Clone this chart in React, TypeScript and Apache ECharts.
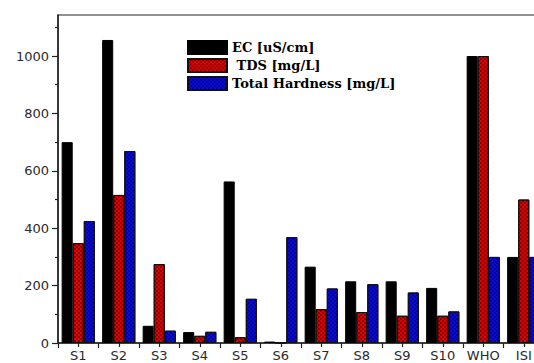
import React, { useEffect, useRef } from "react";
import * as echarts from "echarts";

const categories = ["S1", "S2", "S3", "S4", "S5", "S6", "S7", "S8", "S9", "S10", "WHO", "ISI"];
const ecValues = [700, 1056, 60, 38, 563, 5, 266, 215, 215, 192, 1000, 300];
const tdsValues = [348, 516, 275, 25, 20, 1, 118, 108, 95, 95, 1000, 500];
const hardnessValues = [425, 669, 43, 39, 154, 369, 190, 205, 176, 110, 300, 300];
const yTickLabels = [0, 200, 400, 600, 800, 1000];
const yMinorTicks = [100, 300, 500, 700, 900, 1100];

const checker = (color: string) => ({
  symbol: "rect",
  symbolSize: 1,
  color,
  dashArrayX: [
    [2, 2],
    [0, 2, 2, 0],
  ],
  dashArrayY: [2, 0],
  rotation: 0,
});

export default function App() {
  const ref = useRef<HTMLDivElement>(null);
  useEffect(() => {
    if (!ref.current) return;
    const chart = echarts.init(ref.current, undefined, { renderer: "svg" });
    const axisFont = { fontFamily: "DejaVu Sans, sans-serif", fontSize: 13, color: "#2a2a2a" };
    const gridRight = -10;
    const plotW = 534 - 58 - gridRight;
    const plotH = 363 - 15 - 20;
    chart.setOption({
      animation: false,
      grid: {
        left: 58,
        top: 15,
        right: gridRight,
        bottom: 20,
        show: true,
        borderColor: "#222",
        borderWidth: 1.2,
        containLabel: false,
        outerBoundsMode: "none",
      },
      legend: {
        orient: "vertical",
        left: 187,
        top: 40,
        padding: 0,
        itemWidth: 39,
        itemHeight: 13,
        itemGap: 3,
        icon: "rect",
        textStyle: {
          fontFamily: "DejaVu Serif, serif",
          fontWeight: "bold",
          fontSize: 13,
          color: "#000",
          lineHeight: 13,
        },
        data: ["EC [uS/cm]", " TDS [mg/L]", "Total Hardness [mg/L]"],
      },
      xAxis: [
        {
          type: "category",
          data: categories,
          position: "bottom",
          axisLine: { lineStyle: { color: "#222", width: 1.5 } },
          axisTick: { show: true, length: 5, lineStyle: { color: "#222", width: 1.2 } },
          axisLabel: { ...axisFont, margin: 6, interval: 0 },
        },
        {
          type: "category",
          data: categories,
          position: "top",
          offset: -plotH,
          axisLine: { show: false },
          axisTick: { show: true, inside: true, alignWithLabel: true, length: 4, lineStyle: { color: "#222", width: 1.2 } },
          axisLabel: { show: false },
        },
      ],
      yAxis: [
        {
          type: "value",
          min: 0,
          max: 1143,
          position: "left",
          axisLine: { show: true, lineStyle: { color: "#222", width: 1.5 } },
          axisTick: { show: true, length: 6, customValues: yTickLabels, lineStyle: { color: "#222", width: 1.2 } },
          axisLabel: {
            ...axisFont,
            margin: 9,
            customValues: yTickLabels,
            formatter: (v: number) => String(v),
          },
          splitLine: { show: false },
        },
        {
          type: "value",
          min: 0,
          max: 1143,
          position: "right",
          offset: -plotW,
          axisLine: { show: false },
          axisTick: { show: true, inside: true, length: 3, customValues: yMinorTicks, lineStyle: { color: "#222", width: 1.2 } },
          axisLabel: { show: false },
          splitLine: { show: false },
        },
      ],
      series: [
        {
          name: "EC [uS/cm]",
          type: "bar",
          data: ecValues,
          barGap: "0%",
          barCategoryGap: "18%",
          itemStyle: { color: "#000", borderColor: "#000", borderWidth: 1 },
        },
        {
          name: " TDS [mg/L]",
          type: "bar",
          data: tdsValues,
          barGap: "0%",
          barCategoryGap: "18%",
          itemStyle: { color: "#e00000", borderColor: "#111", borderWidth: 1, decal: checker("rgba(70,0,0,0.55)") },
        },
        {
          name: "Total Hardness [mg/L]",
          type: "bar",
          data: hardnessValues,
          barGap: "0%",
          barCategoryGap: "18%",
          itemStyle: { color: "#0a0ad8", borderColor: "#111", borderWidth: 1, decal: checker("rgba(0,0,80,0.45)") },
        },
      ],
    });
    return () => chart.dispose();
  }, []);
  return <div ref={ref} style={{ width: 534, height: 363, position: "absolute", left: 0, top: 0 }} />;
}
